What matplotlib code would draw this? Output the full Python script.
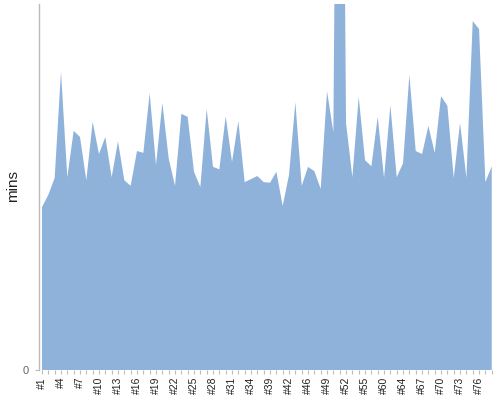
import matplotlib
matplotlib.use("Agg")
import matplotlib.pyplot as plt

plt.rcParams['font.family'] = ['Liberation Sans', 'DejaVu Sans']

categories = [
    "#1", "#2", "#3", "#4", "#5", "#6", "#7", "#8", "#9", "#10",
    "#11", "#12", "#13", "#14", "#15", "#16", "#17", "#18", "#19", "#20",
    "#21", "#22", "#23", "#24", "#25", "#26", "#27", "#28", "#29", "#30",
    "#31", "#32", "#33", "#34", "#35", "#37", "#39", "#40", "#41", "#42",
    "#43", "#45", "#46", "#47", "#48", "#49", "#50", "#51", "#52", "#53",
    "#54", "#55", "#57", "#58", "#60", "#61", "#62", "#64", "#65", "#66",
    "#67", "#68", "#69", "#70", "#71", "#72", "#73", "#74", "#75", "#76",
    "#77", "#78",
]

mins = [
    26.7, 28.7, 31.5, 48.9, 31.6, 39.2, 38.2, 31.1, 40.7, 35.4,
    38.2, 31.6, 37.5, 31.1, 30.2, 35.9, 35.6, 45.4, 33.6, 43.8,
    34.7, 30.2, 42.0, 41.5, 32.5, 30.0, 42.8, 33.3, 32.9, 41.6,
    34.1, 40.8, 30.8, 31.3, 31.8, 30.8, 30.7, 32.5, 26.9, 32.0,
    43.9, 30.2, 33.3, 32.6, 29.7, 45.7, 39.0, 175.4, 40.5, 31.6,
    44.8, 34.4, 33.4, 41.5, 31.5, 43.4, 31.6, 33.9, 48.4, 35.9,
    35.4, 40.0, 35.6, 44.9, 43.3, 31.5, 40.5, 31.5, 57.2, 55.9,
    30.8, 33.4,
]

y_max = 60

fig = plt.figure(figsize=(5, 4), dpi=100)
ax = fig.add_axes([0.077, 0.075, 0.909, 0.915])

x = list(range(len(categories)))
ax.fill_between(x, 0, mins, color="#8fb2db", linewidth=0)

ax.set_xlim(-0.55, len(categories) - 0.8)
ax.set_ylim(0, y_max)

ax.set_xticks(x)
ax.set_xticklabels([c if i % 3 == 0 else "" for i, c in enumerate(categories)],
                   rotation=90, fontsize=7.5, color="#222222")
ax.set_yticks([0])
ax.set_yticklabels(["0"], fontsize=8, color="#666666")
ax.tick_params(axis="x", length=3, color="#bbbbbb", pad=2)
ax.tick_params(axis="y", length=3, color="#bbbbbb", pad=4)

for side in ["top", "right", "bottom"]:
    ax.spines[side].set_visible(False)
ax.spines["left"].set_color("#bbbbbb")
ax.spines["left"].set_linewidth(1)

fig.text(0.027, 0.535, "mins", rotation=90, ha="center", va="center",
         fontsize=11, color="#222222")

fig.savefig("out.png", dpi=100)
